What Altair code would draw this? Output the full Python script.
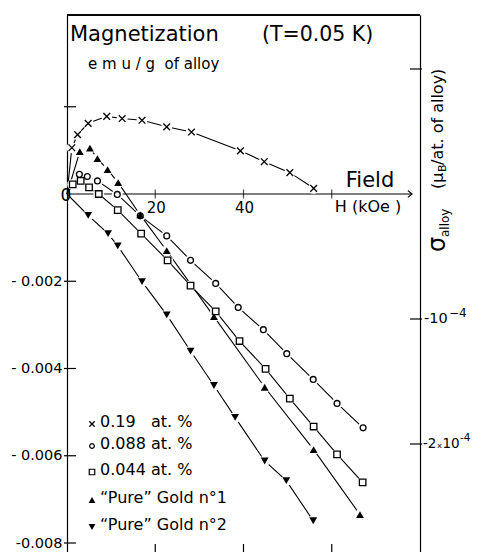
import altair as alt
import pandas as pd

FONT = "DejaVu Sans"
W, H = 353, 537
X_DOMAIN = [0, 80]
Y_DOMAIN = [-0.0082063, 0.0041032]
Y2_DOMAIN = [-2.864e-4, 1.432e-4]
NB = "\u00a0"

# ---- data (H in kOe, M in emu/g of alloy); first point = origin
H_019 = [0, 1.1, 2.4, 4.8, 9.0, 12.5, 17.0, 22.6, 28.2, 39.3, 44.7, 50.5, 55.9]
M_019 = [0, 0.00106, 0.00136, 0.00162, 0.00178, 0.00173, 0.00169, 0.00154, 0.00142, 0.00099, 0.00074, 0.00049, 0.00013]

H_0088 = [0, 2.8, 4.6, 6.9, 11.4, 16.6, 22.6, 28.0, 33.7, 38.8, 44.5, 49.8, 55.8, 61.2, 67.1]
M_0088 = [0, 0.00045, 0.00040, 0.00030, -0.00001, -0.00050, -0.00096, -0.00152, -0.00205, -0.00260, -0.00311, -0.00366, -0.00425, -0.00480, -0.00536]

H_0044 = [0, 1.3, 3.1, 5.0, 7.2, 11.5, 16.8, 22.8, 28.0, 33.7, 39.1, 45.0, 50.5, 55.9, 61.2, 67.0]
M_0044 = [0, 0.00022, 0.00030, 0.00015, 0.0, -0.00037, -0.00091, -0.00152, -0.00210, -0.00269, -0.00337, -0.00401, -0.00469, -0.00533, -0.00597, -0.00661]

H_AU1 = [0, 2.9, 5.2, 6.9, 9.2, 11.6, 16.6, 22.6, 33.3, 44.8, 55.9, 66.4]
M_AU1 = [0, 0.00097, 0.00105, 0.00081, 0.00056, 0.00026, -0.00048, -0.00130, -0.00281, -0.00443, -0.00586, -0.00735]

H_AU2 = [0, 4.8, 9.3, 11.5, 17.0, 22.6, 28.0, 33.3, 38.1, 44.8, 49.7, 55.8]
M_AU2 = [0, -0.00049, -0.00091, -0.00119, -0.00201, -0.00277, -0.00360, -0.00439, -0.00512, -0.00612, -0.00657, -0.00749]

SERIES = ["0.19" + NB * 3 + "at. %", "0.088 at. %", "0.044 at. %",
          "\u201cPure\u201d Gold n\u00b01", "\u201cPure\u201d Gold n\u00b02"]

Y_TICKS = [-0.002, -0.004, -0.006, -0.008]
Y_LABELS = ["-" + NB + "0.002", "-" + NB + "0.004", "-" + NB + "0.006", "-0.008"]
Y_INNER_TICKS = [0.002, -0.002, -0.004, -0.006, -0.008]
R_TICKS = [1e-4, -1e-4, -2e-4]
R_LABEL_VALUES = [-1e-4, -2e-4]
R_LABEL_BASES = ["-10", "-2\u209310"]
R_LABEL_EXPS = ["\u22124", "-4"]
X_TICKS = [20, 40, 60]
X_LABEL_POS = [20, 40]
X_LABELS = ["20", "40"]
ARROW_END = [78.2]

CROSS = "M-1,-1L1,1M-1,1L1,-1"
SHAPES = [CROSS, "circle", "square", "triangle-up", "triangle-down"]
FILLED = [False, False, False, True, True]
SIZES = [45, 34, 42, 62, 62]
LEG_SIZES = [30, 22, 30, 45, 45]

rows = []
for name, hs, ms in zip(SERIES, [H_019, H_0088, H_0044, H_AU1, H_AU2],
                        [M_019, M_0088, M_0044, M_AU1, M_AU2]):
    for i, (h, m) in enumerate(zip(hs, ms)):
        rows.append({"series": name, "i": i, "H": h, "M": m})
df = pd.DataFrame(rows)


def expr_from(vals, labs, tol):
    e = "''"
    for v, l in zip(vals, labs):
        e = f"abs(datum.value - ({v})) < {tol} ? '{l}' : ({e})"
    return e


def xdef(field):
    return alt.X(f"{field}:Q", scale=alt.Scale(domain=X_DOMAIN, nice=False, zero=False), axis=None)


def ydef(field):
    return alt.Y(f"{field}:Q",
                 scale=alt.Scale(domain=Y_DOMAIN, nice=False, zero=False),
                 axis=alt.Axis(values=Y_TICKS, labelExpr=expr_from(Y_TICKS, Y_LABELS, 1e-6),
                               ticks=False, tickSize=0, grid=False, domainColor="black", domainWidth=1.2,
                               labelFont=FONT, labelFontSize=14.5, labelColor="black",
                               labelPadding=5, title=None))


def y2def(field):
    ax = alt.Axis(orient="right", values=R_TICKS, labels=False, ticks=False, tickSize=0,
                  grid=False, domainColor="black", domainWidth=1.2, title=None)
    return alt.Y(f"{field}:Q", scale=alt.Scale(domain=Y2_DOMAIN, nice=False, zero=False), axis=ax)


base = alt.Chart(df)
layers = []

# zero field axis line with arrow and ticks
ax_df = pd.DataFrame({"x0": [0], "x1": ARROW_END, "z": [0]})
layers.append(alt.Chart(ax_df).mark_rule(color="black", strokeWidth=1.2).encode(
    x=xdef("x0"), x2="x1", y=ydef("z")))
layers.append(alt.Chart(ax_df).mark_point(shape="M-1,-0.8L0,0L-1,0.8", filled=False, color="black",
                                          size=70, strokeWidth=1.2, opacity=1).encode(
    x=xdef("x1"), y=ydef("z")))
xt_df = pd.DataFrame({"h": X_TICKS, "z": [0] * len(X_TICKS)})
layers.append(alt.Chart(xt_df).mark_tick(orient="vertical", size=9, thickness=1.2, color="black").encode(
    x=xdef("h"), y=ydef("z")))
# bottom inward ticks
layers.append(alt.Chart(xt_df).mark_rule(color="black", strokeWidth=1.2).encode(
    x=xdef("h"), y=alt.value(H), y2=alt.value(H - 8)))

# series lines
layers.append(base.mark_line(color="black", strokeWidth=1.1).encode(
    x=xdef("H"), y=ydef("M"), detail="series:N", order="i:Q"))
# white halos to break the lines at the markers
layers.append(base.transform_filter("datum.i > 0").mark_point(
    shape="circle", filled=True, color="white", size=120, opacity=1).encode(
    x=xdef("H"), y=ydef("M")))
# markers
for name, shp, fl, sz in zip(SERIES, SHAPES, FILLED, SIZES):
    sub = base.transform_filter(alt.datum.series == name).transform_filter("datum.i > 0")
    if fl:
        mk = sub.mark_point(shape=shp, filled=True, color="black", size=sz, opacity=1)
    else:
        mk = sub.mark_point(shape=shp, filled=False, color="black", size=sz, strokeWidth=1.3, opacity=1)
    layers.append(mk.encode(x=xdef("H"), y=ydef("M")))

# left inner ticks
lt_df = pd.DataFrame({"v": Y_INNER_TICKS})
layers.append(alt.Chart(lt_df).mark_rule(color="black", strokeWidth=1.2).encode(
    y=ydef("v"), x=alt.value(-3), x2=alt.value(9)))
# top frame
layers.append(alt.Chart(lt_df).mark_rule(color="black", strokeWidth=1.2).encode(
    x=alt.value(0), x2=alt.value(W), y=alt.value(0)))

# x tick labels on the field axis
xl_df = pd.DataFrame({"h": X_LABEL_POS, "lab": X_LABELS, "z": [0] * len(X_LABELS)})
layers.append(alt.Chart(xl_df).mark_text(font=FONT, fontSize=15, dy=14, dx=1, color="black").encode(
    x=xdef("h"), y=ydef("z"), text="lab:N"))
zero_df = pd.DataFrame({"h": [0], "lab": ["0"], "z": [0]})
layers.append(alt.Chart(zero_df).mark_text(font=FONT, fontSize=17, dy=2, dx=-1, color="black").encode(
    x=xdef("h"), y=ydef("z"), text="lab:N"))


def txt(t, x, y, size, **kw):
    return alt.Chart(pd.DataFrame({"t": [t]})).mark_text(
        font=FONT, fontSize=size, color="black", **kw).encode(
        text="t:N", x=alt.value(x), y=alt.value(y))


layers.append(txt("Magnetization", 3, 20, 21, align="left", baseline="middle"))
layers.append(txt("(T=0.05" + NB + "K)", 195, 20, 20.5, align="left", baseline="middle"))
layers.append(txt("e" + NB + "m" + NB + "u" + NB + "/" + NB + "g" + NB + NB + "of" + NB + "alloy",
                  21, 49, 15, align="left", baseline="middle"))
layers.append(txt("Field", 303, 166, 21, align="center", baseline="middle"))
layers.append(txt("H" + NB + "(kOe" + NB + ")", 301, 192, 16, align="center", baseline="middle"))

# legend
LEG_Y = [407, 429, 455, 483, 510]
for name, shp, fl, sz, ly in zip(SERIES, SHAPES, FILLED, LEG_SIZES, LEG_Y):
    p = alt.Chart(pd.DataFrame({"t": [name]}))
    if fl:
        m = p.mark_point(shape=shp, filled=True, color="black", size=sz, opacity=1)
    else:
        m = p.mark_point(shape=shp, filled=False, color="black", size=sz, strokeWidth=1.2, opacity=1)
    layers.append(m.encode(x=alt.value(25), y=alt.value(ly + 2)))
    layers.append(txt(name, 33, ly, 16, align="left", baseline="middle"))

# right axis title (rotated)
layers.append(txt("\u03c3", 371, 237, 24, angle=270, align="left", baseline="middle"))
layers.append(txt("alloy", 378, 222, 12, angle=270, align="left", baseline="middle"))
layers.append(txt("(\u03bc", 371, 174, 16, angle=270, align="left", baseline="middle"))
layers.append(txt("B", 376, 157, 11, angle=270, align="left", baseline="middle"))
layers.append(txt("/at. of alloy)", 371, 150, 16, angle=270, align="left", baseline="middle"))

left = alt.layer(*layers)

# right axis (sigma scale): ticks crossing the frame + labels with superscripts
rt_df = pd.DataFrame({"r": R_TICKS})
rl_df = pd.DataFrame({"r": R_LABEL_VALUES, "b": R_LABEL_BASES, "e": R_LABEL_EXPS})
right_layers = [
    alt.Chart(rt_df).mark_rule(color="black", strokeWidth=1.2).encode(
        y=y2def("r"), x=alt.value(W - 10), x2=alt.value(W + 2)),
    alt.Chart(rl_df).transform_filter("datum.r > -1.5e-4").mark_text(
        font=FONT, fontSize=14.5, align="left", baseline="middle", color="black").encode(
        y=y2def("r"), x=alt.value(W + 4), text="b:N"),
    alt.Chart(rl_df).transform_filter("datum.r > -1.5e-4").mark_text(
        font=FONT, fontSize=12, align="left", baseline="middle", dy=-6, color="black").encode(
        y=y2def("r"), x=alt.value(W + 29), text="e:N"),
    alt.Chart(rl_df).transform_filter("datum.r < -1.5e-4").mark_text(
        font=FONT, fontSize=13.5, align="left", baseline="middle", color="black").encode(
        y=y2def("r"), x=alt.value(W + 3), text="b:N"),
    alt.Chart(rl_df).transform_filter("datum.r < -1.5e-4").mark_text(
        font=FONT, fontSize=10.5, align="left", baseline="middle", dy=-6, color="black").encode(
        y=y2def("r"), x=alt.value(W + 40), text="e:N"),
]
right = alt.layer(*right_layers)

chart = alt.layer(left, right).resolve_scale(y="independent").properties(
    width=W, height=H, autosize=alt.AutoSizeParams(type="none"),
    padding={"left": 59, "top": 7, "right": 51, "bottom": 0},
    background="white",
).configure_view(stroke=None)

chart.save("out.html", embed_options={"renderer": "svg", "actions": False})
